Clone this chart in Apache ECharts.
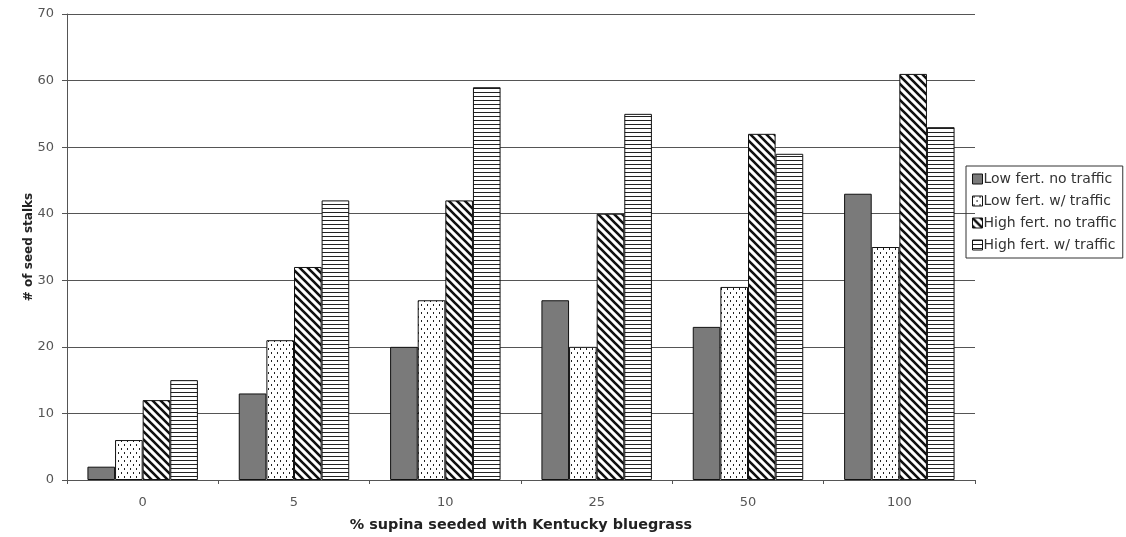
<!DOCTYPE html>
<html><head><meta charset="utf-8">
<script src="https://cdn.jsdelivr.net/npm/echarts@6/dist/echarts.min.js"></script>
<style>html,body{margin:0;padding:0;background:#fff}#c{width:1126px;height:537px}</style>
</head><body><div id="c"></div>
<script>
const categories = ['0','5','10','25','50','100'];
const seriesNames = ['Low fert. no traffic','Low fert. w/ traffic','High fert. no traffic','High fert. w/ traffic'];
const lowNoTraffic = [2, 13, 20, 27, 23, 43];
const lowTraffic = [6, 21, 27, 20, 29, 35];
const highNoTraffic = [12, 32, 42, 40, 52, 61];
const highTraffic = [15, 42, 59, 55, 49, 53];
const yTicks = [0,10,20,30,40,50,60,70];

function mk(w,h,draw){const c=document.createElement('canvas');c.width=w;c.height=h;const x=c.getContext('2d');x.fillStyle='#fff';x.fillRect(0,0,w,h);draw(x);return c;}
const dotPat = mk(6,8,x=>{x.fillStyle='#222';x.fillRect(1,0,1,2);x.fillRect(4,4,1,2);});
const diagPat = mk(8,8,x=>{x.strokeStyle='#111';x.lineWidth=2.6;x.beginPath();
  for(let k=-2;k<=2;k++){x.moveTo(k*8-4,-4);x.lineTo(k*8+12,12);}x.stroke();});
const horzPat = mk(4,4,x=>{x.fillStyle='#222';x.fillRect(0,0,4,1);});

const fills = ['#7a7a7a',{image:dotPat,repeat:'repeat'},{image:diagPat,repeat:'repeat'},{image:horzPat,repeat:'repeat'}];
const data = [lowNoTraffic, lowTraffic, highNoTraffic, highTraffic];
const font = 'DejaVu Sans, sans-serif';

const chart = echarts.init(document.getElementById('c'));
chart.setOption({
  animation:false,
  backgroundColor:'#fff',
  grid:{left:67,right:151,top:14,bottom:57},
  legend:{orient:'vertical',left:966,top:166,icon:'rect',itemWidth:10,itemHeight:10,itemGap:8,
    borderColor:'#333',borderWidth:1,padding:[6,6,6,6],
    textStyle:{fontFamily:font,fontSize:14,color:'#333',padding:[0,0,0,-4]},data:seriesNames,
    itemStyle:{borderColor:'#111',borderWidth:1}},
  xAxis:{type:'category',data:categories,
    axisLine:{lineStyle:{color:'#555',width:1}},
    axisTick:{show:true,alignWithLabel:false,length:4,lineStyle:{color:'#555'}},
    axisLabel:{fontFamily:font,fontSize:13,color:'#555',margin:16},
    name:'% supina seeded with Kentucky bluegrass',nameLocation:'middle',nameGap:38,
    nameTextStyle:{fontFamily:font,fontSize:14.4,fontWeight:'bold',color:'#222'}},
  yAxis:{type:'value',min:0,max:70,interval:10,
    axisLine:{show:true,lineStyle:{color:'#555',width:1}},
    axisTick:{show:true,length:5,lineStyle:{color:'#555'}},
    splitLine:{lineStyle:{color:'#555',width:1}},
    axisLabel:{fontFamily:font,fontSize:13,color:'#555',margin:13},
    name:'# of seed stalks',nameLocation:'middle',nameGap:32,nameMoveOverlap:false,
    nameTextStyle:{fontFamily:font,fontSize:12,fontWeight:'bold',color:'#222'}},
  series: data.map((d,i)=>({name:seriesNames[i],type:'bar',data:d,barGap:'0%',barCategoryGap:'27%',
    itemStyle:{color:fills[i],borderColor:'#111',borderWidth:1}}))
});
</script></body></html>
